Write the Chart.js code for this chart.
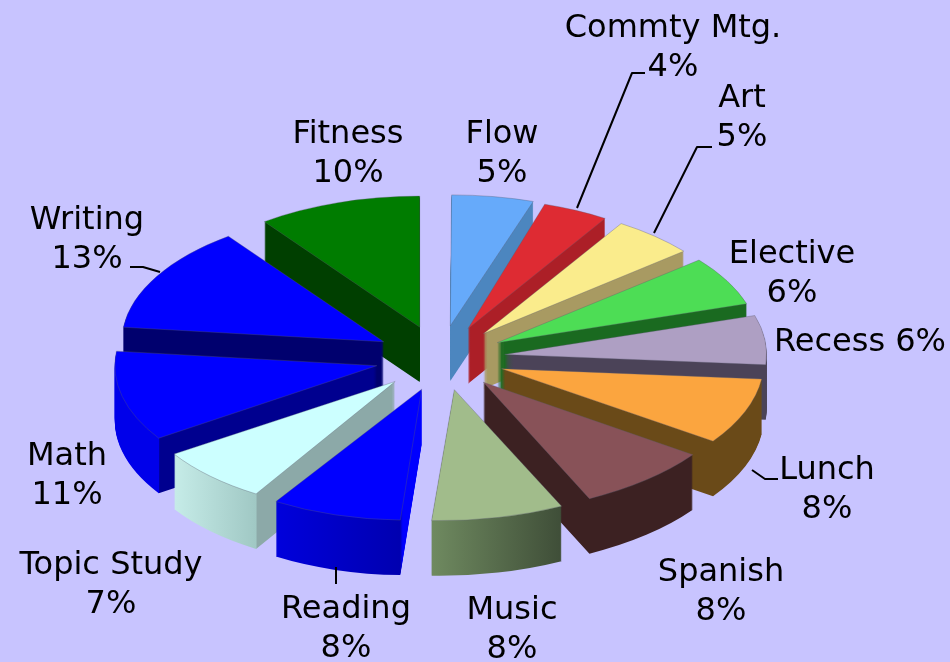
<!DOCTYPE html>
<html><head><meta charset="utf-8">
<script src="https://cdn.jsdelivr.net/npm/chart.js@4/dist/chart.umd.min.js"></script>
<style>html,body{margin:0;padding:0;background:#C8C4FF;overflow:hidden}canvas{display:block}</style>
</head><body><canvas id="c" width="950" height="662"></canvas>
<script>
const categories=['Flow','Commty Mtg.','Art','Elective','Recess','Lunch','Spanish','Music','Reading','Topic Study','Math','Writing','Fitness'];
const shares=[5,4,5,6,6,8,8,8,8,7,11,13,10];
const topColors=['#66AAFA','#DE2B33','#FAEC8C','#4DDD55','#AE9FC3','#FBA53F','#885258','#A1BC8B','#0000FF','#CCFFFF','#0000FF','#0000FF','#007C00'];
const radialWall=['#4C86BF','#AC1F27','#A89A62','#1A6A20','#4B4358','#6A4A18','#3C2122','#3F4E38','#0000FF','#8CA9A8','#00008F','#00006E','#003F00'];
const outerWallL=['#4C86BF','#AC1F27','#A89A62','#1A6A20','#4B4358','#6A4A18','#3C2122','#6F8A60','#0000DC','#C6ECE8','#0000EA','#00006E','#003F00'];
const outerWallR=['#4C86BF','#AC1F27','#A89A62','#1A6A20','#4B4358','#6A4A18','#3C2122','#3F4E38','#0000B0','#A0C8C4','#0000EA','#00006E','#003F00'];
const rimLean=[0.01,-0.04,-0.035,-0.02,0,0.09,0.12,0.11,0.1,0.04,0,0,0];
const labelCenters=[[502,135],[673,29],[742,99],[792,255],[860,343],[827,471],[721,573],[512,611],[346,610],[111,566],[67,457],[87,221],[348,135]];
const leaders=[[[577,208],[632,73],[645,73]],[[654,233],[697,147],[712,147]],[[752,470],[765,479],[778,479]],[[336,567],[336,584]],[[130,267],[143,267],[160,272]]];
const PIE={cx:440,cy:358,tilt:0.5,depth:55,radius:262,explode:65,font:'32px "DejaVu Sans"',lineGap:38.5};

const pie3d={id:'pie3d',
 beforeDatasetsDraw(chart){
  const ctx=chart.ctx, arcs=chart.getDatasetMeta(0).data;
  const mid=a=>(a.startAngle+a.endAngle)/2;
  const order=arcs.map((a,i)=>i).sort((p,q)=>Math.sin(mid(arcs[p]))-Math.sin(mid(arcs[q])));
  order.forEach(i=>{
   const a=arcs[i], base=a.options, m=mid(a);
   const ex=Math.cos(m)*PIE.explode, ey=Math.sin(m)*PIE.explode;
   const corner=a.x+Math.cos(a.startAngle)*a.outerRadius;
   const left=a.x+Math.cos(a.endAngle)*a.outerRadius;
   const x0=Math.min(left,corner), x1=Math.max(left,corner,x0+1);
   const g=ctx.createLinearGradient(x0,0,x1+1,0);
   g.addColorStop(0,outerWallL[i]);
   g.addColorStop((x1-x0)/(x1+1-x0)*0.999,outerWallR[i]);
   g.addColorStop(1,radialWall[i]);
   for(let d=PIE.depth;d>=0;d--){
    ctx.save();
    ctx.translate(PIE.cx+ex,PIE.cy+d+ey*PIE.tilt);
    ctx.transform(1,0,-rimLean[i],1,0,0);
    ctx.scale(1,PIE.tilt);ctx.translate(-a.x,-a.y);
    a.options=Object.assign({},base,d===0
      ?{backgroundColor:topColors[i],borderWidth:1,borderColor:'rgba(90,90,110,0.45)'}
      :{backgroundColor:g,borderWidth:0});
    a.draw(ctx);
    ctx.restore();
   }
   a.options=base;
  });
  ctx.save();
  ctx.strokeStyle='#000';ctx.lineWidth=2;ctx.lineJoin='round';
  leaders.forEach(l=>{ctx.beginPath();l.forEach((p,j)=>j?ctx.lineTo(p[0],p[1]):ctx.moveTo(p[0],p[1]));ctx.stroke();});
  ctx.fillStyle='#000';ctx.font=PIE.font;ctx.textAlign='center';ctx.textBaseline='middle';
  categories.forEach((c,i)=>{
   const [x,y]=labelCenters[i];
   if(c==='Recess'){ctx.fillText(c+' '+shares[i]+'%',x,y);}
   else{ctx.fillText(c,x,y);ctx.fillText(shares[i]+'%',x,y+PIE.lineGap);}
  });
  ctx.restore();
  return false;
 }};

new Chart(document.getElementById('c'),{
 type:'pie',
 data:{labels:categories,datasets:[{data:shares,backgroundColor:topColors,borderWidth:0,radius:PIE.radius,hoverOffset:0}]},
 options:{responsive:false,animation:false,layout:{padding:0},
  plugins:{legend:{display:false},tooltip:{enabled:false},title:{display:false}}},
 plugins:[pie3d]
});
</script></body></html>
